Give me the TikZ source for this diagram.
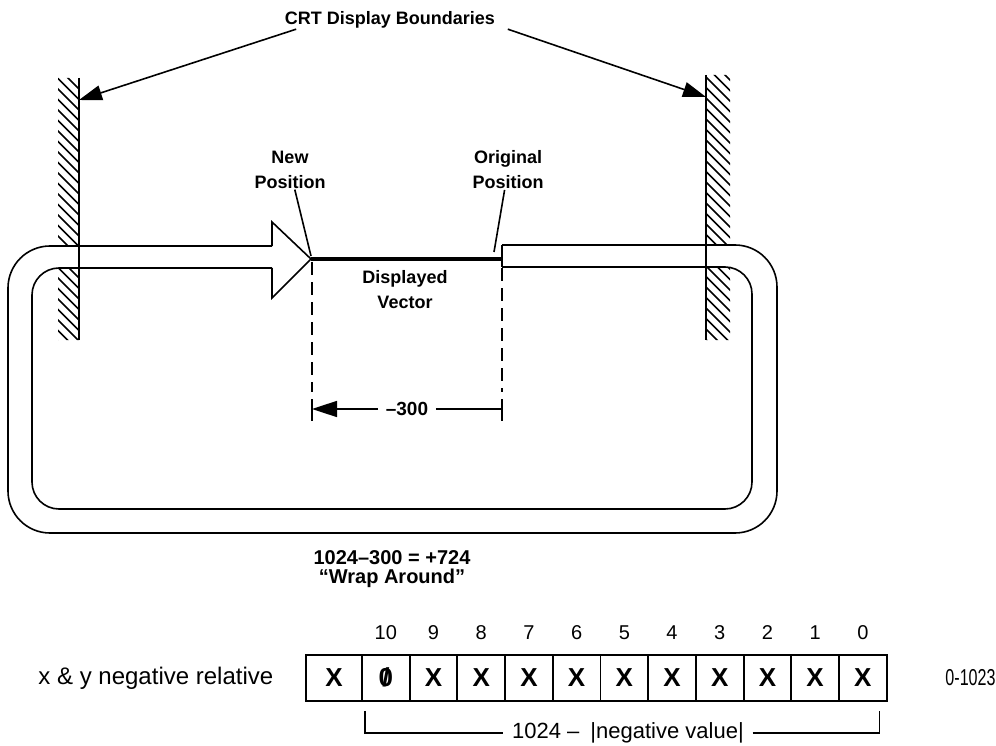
\documentclass[tikz,border=0pt]{standalone}
\usepackage{fontspec}
\setmainfont{Liberation Sans}
\newfontfamily\condfont[FakeStretch=0.7]{Liberation Sans}
\usetikzlibrary{positioning,arrows.meta,calc}

\newcommand{\slzero}{\ooalign{0\cr\hidewidth/\hidewidth\cr}}

\tikzset{
    lbl/.style={font=\fontsize{18}{25}\selectfont\bfseries, align=center, inner sep=0pt},
    ptr/.style={-{Triangle[length=23pt,width=15pt]}},
    dimptr/.style={-{Triangle[length=25pt,width=16pt]}},
    dashline/.style={dash pattern=on 13pt off 7pt},
    cell/.style={draw, line width=1.9pt, minimum width=47.7pt, minimum height=46pt, inner sep=0pt, font=\fontsize{26}{26}\selectfont\bfseries},
    bitnum/.style={font=\fontsize{20}{20}\selectfont, inner sep=0pt},
    plain/.style={font=\fontsize{#1}{#1}\selectfont, inner sep=0pt}
}

\begin{document}
\begin{tikzpicture}[x=1pt, y=-1pt, line width=1.6pt]
    \useasboundingbox (0,0) rectangle (996,746);
    % Bildschirmgrenzen
    \coordinate (ltip) at (79,100);
    \coordinate (rtip) at (706,97);
    \node[lbl] (title) at (390,20) {CRT Display Boundaries};
    \draw[ptr] ([xshift=12pt]title.south west) -- (ltip);
    \draw[ptr] ([xshift=12pt]title.south east) -- (rtip);
    % schraffierte Grenzen
    \begin{scope}
        \clip (58,78) rectangle (79,246) (58,268) rectangle (79,340);
        \foreach \y in {50,60.5,...,340} {
            \draw (40,\y) -- (100,\y+60);
        }
    \end{scope}
    \begin{scope}
        \clip (706,75) rectangle (730,245) (706,267) rectangle (730,340);
        \foreach \y in {40,50.5,...,340} {
            \draw (690,\y) -- (750,\y+60);
        }
    \end{scope}
    \draw (79,78) -- (79,340);
    \draw (706,75) -- (706,340);
    % Rohr rundherum
    \draw[rounded corners=42pt] (272,246) -- (8,246) -- (8,533) -- (777,533) -- (777,245) -- (502,245);
    \draw[rounded corners=27pt] (502,267) -- (752,267) -- (752,509) -- (32,509) -- (32,268) -- (272,268);
    \draw (502,245) -- (502,267);
    \draw[line join=miter] (272,246) -- (272,222) -- (311,259) -- (272,298) -- (272,268);
    % Vektor
    \coordinate (newp) at (311,259);
    \coordinate (origp) at (502,259);
    \draw[line width=3.5pt] (newp) -- (origp);
    \node[lbl] (newpos) at (290,170) {New\\Position};
    \node[lbl] (origpos) at (508,170) {Original\\Position};
    \node[lbl] (dispvec) at (405,290) {Displayed\\Vector};
    \coordinate (newend) at (311,256);
    \coordinate (origend) at (494,252);
    \draw (newpos) -- (newend);
    \draw (origpos) -- (origend);
    % Abstand
    \draw[dashline] (312,262) -- (312,392);
    \draw[dashline] (502,268) -- (502,392);
    \coordinate (dl) at (312,409);
    \coordinate (dr) at (502,409);
    \draw (312,399) -- (312,421);
    \draw (502,399) -- (502,421);
    \node[lbl, inner sep=7pt, font=\fontsize{19}{19}\selectfont\bfseries] (dim) at (407,409) {--300};
    \draw[dimptr] (dim) -- (dl);
    \draw (dim) -- (dr);
    \node[lbl, font=\fontsize{20}{19}\selectfont\bfseries] (wrap) at (392,569) {1024--300 = +724\\``Wrap Around''};
    % Registerbits
    \node[cell, minimum width=56pt] (s) at (334,678) {X};
    \foreach \n/\v in {10/\slzero, 9/X, 8/X, 7/X, 6/X, 5/X, 4/X, 3/X, 2/X, 1/X, 0/X} {
        \node[cell] (b\n) at ({385.85+47.7*(10-\n)},678) {\v};
        \node[bitnum, above=14pt of b\n] (n\n) {\n};
    }
    \node[plain=24, left=31pt of s] (xyrel) {x \& y negative relative};
    \node[inner sep=0pt, font=\fontsize{23}{23}\condfont, right=57pt of b0] (range) {0-1023};
    \coordinate (brl) at ([xshift=4pt,yshift=-9pt]b10.south west);
    \coordinate (brr) at ([xshift=-8pt,yshift=-9pt]b0.south east);
    \node[plain=22, inner sep=8pt] (negval) at (628,733) {1024 --\enspace|negative value|};
    \draw (brl) |- (negval.west);
    \draw (negval.east) -| (brr);
\end{tikzpicture}
\end{document}
